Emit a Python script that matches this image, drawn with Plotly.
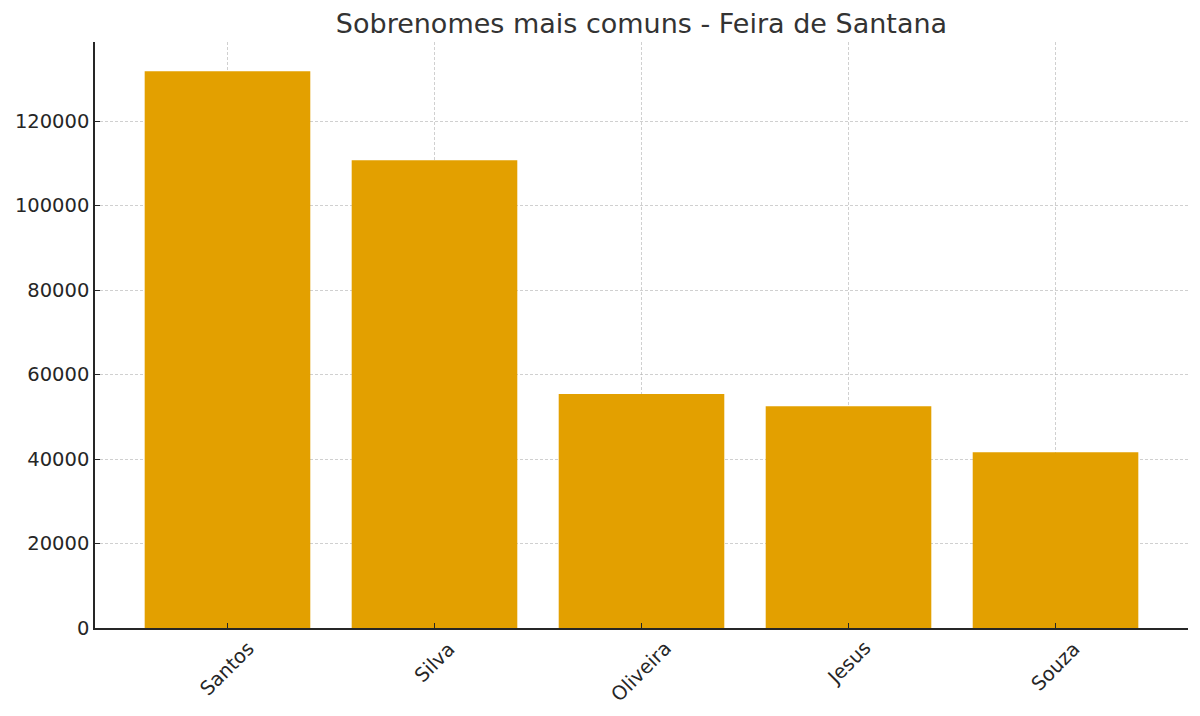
import plotly.graph_objects as go

# Dados
sobrenomes = ['Santos', 'Silva', 'Oliveira', 'Jesus', 'Souza']
contagens = [131800, 110700, 55400, 52500, 41600]
y_ticks = [0, 20000, 40000, 60000, 80000, 100000, 120000]

fig = go.Figure()
fig.add_trace(go.Bar(x=sobrenomes, y=contagens, marker=dict(color='#E3A000', line=dict(width=0)), width=0.8))

# rótulos do eixo x girados em torno do centro (como no matplotlib)
for nome in sobrenomes:
    fig.add_annotation(x=nome, xref='x', y=-0.011, yref='paper', text=nome, showarrow=False,
                       textangle=-45, xanchor='center', yanchor='top', font=dict(size=19.5, color='#262626'))

grade = 'rgba(176,176,176,0.6)'

fig.update_layout(
    title=dict(text='Sobrenomes mais comuns - Feira de Santana', xref='paper', x=0.5, xanchor='center',
               y=0.979, yanchor='middle', font=dict(size=27, color='#333333')),
    font=dict(family='DejaVu Sans', size=19.5, color='#262626'),
    width=1200, height=716,
    plot_bgcolor='white', paper_bgcolor='white',
    margin=dict(l=87, r=20, t=34, b=96),
    showlegend=False,
    bargap=0.2,
)
fig.update_xaxes(range=[-0.64, 4.64], showticklabels=False, ticks='inside', ticklen=5, tickcolor='#262626',
                 showline=True, linecolor='#262626', linewidth=1.5, mirror=False, automargin=False,
                 showgrid=True, gridcolor=grade, griddash='3px,2px', gridwidth=0.8, layer='above traces')
fig.update_yaxes(range=[0, 138700], tickvals=y_ticks, ticktext=[str(v) for v in y_ticks], ticks='inside', ticklen=5,
                 tickcolor='#262626', showline=True, linecolor='#262626', linewidth=1.5, automargin=False,
                 showgrid=True, gridcolor=grade, griddash='3px,2px', gridwidth=0.8, zeroline=False, layer='above traces')

fig.write_html('out.html')
